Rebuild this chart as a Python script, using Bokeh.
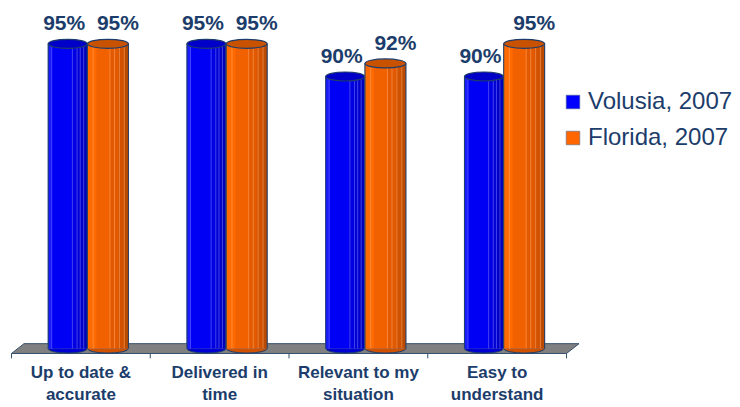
from bokeh.plotting import figure
from bokeh.models import Range1d, Legend, LegendItem
from bokeh.core.properties import value
from bokeh.embed import file_html
from bokeh.resources import INLINE

# ---- data ----
categories = ["Up to date &\naccurate", "Delivered in\ntime", "Relevant to my\nsituation", "Easy to\nunderstand"]
series_names = ["Volusia, 2007", "Florida, 2007"]
volusia = [95, 95, 90, 90]
florida = [95, 95, 92, 95]
value_labels_v = ["95%", "95%", "90%", "90%"]
value_labels_f = ["95%", "95%", "92%", "95%"]

BASE = 48.4          # axis floor value
NAVY = "#1C3D6B"
FONT = "Liberation Sans"

p = figure(width=740, height=407, output_backend="svg", toolbar_location=None,
           x_axis_location=None, y_axis_location=None,
           x_range=Range1d(-0.0793, 5.254), y_range=Range1d(39.39, 101.62),
           min_border=0, outline_line_color=None)
p.xgrid.visible = False
p.ygrid.visible = False
p.background_fill_color = "white"

n = len(categories)
idx = list(range(n))

# ---- floor ----
fb, ft = BASE - 0.75, BASE + 0.75
p.patch(x=[0, n, n + 0.09, 0.09], y=[fb, fb, ft, ft],
        fill_color="#808080", line_color="#33506F", line_width=1)
p.segment(x0=list(range(n + 1)), y0=[fb] * (n + 1), x1=list(range(n + 1)), y1=[fb - 0.75] * (n + 1),
          line_color="#33506F", line_width=1)

# ---- cylinders ----
specs = [
    dict(vals=volusia, off=0.405, w=0.281, main="#0000FF", top="#0000C8",
         strips=[(0.0, 0.09, "#1A1AFF"), (0.09, 0.60, "#0000F4"), (0.60, 0.72, "#0000E2"),
                 (0.72, 0.86, "#0000D2"), (0.86, 1.0, "#0000BC")],
         seps=[0.09, 0.62, 0.74, 0.82, 0.91], sepc="#7070FF",
         labels=value_labels_v, loff=-3.5),
    dict(vals=florida, off=0.695, w=0.295, main="#FF6600", top="#C85200",
         strips=[(0.0, 0.22, "#FF6A00"), (0.22, 0.55, "#F26100"), (0.55, 0.75, "#E25900"),
                 (0.75, 0.88, "#D05200"), (0.88, 1.0, "#BC4B00")],
         seps=[0.14, 0.55, 0.66, 0.78, 0.90], sepc="#FFA060",
         labels=value_labels_f, loff=10),
]

legend_renderers = []
for s in specs:
    xs = [i + s["off"] for i in idx]
    w = s["w"]
    # bottom cap
    p.ellipse(x=xs, y=[BASE] * n, width=w, height=9, height_units="screen",
              fill_color=s["strips"][-2][2], line_color=NAVY, line_width=1)
    # full body (used for legend)
    r = p.vbar(x=xs, bottom=BASE, top=s["vals"], width=w, fill_color=s["main"], line_color="#5A6F90",
               line_width=0.6)
    legend_renderers.append(r)
    # shaded strips
    for a, b, c in s["strips"]:
        sx = [x - w / 2 + w * (a + b) / 2 for x in xs]
        p.vbar(x=sx, bottom=BASE, top=s["vals"], width=w * (b - a), fill_color=c, line_color=None)
    # light separators
    for f in s["seps"]:
        lx = [x - w / 2 + w * f for x in xs]
        p.segment(x0=lx, y0=[BASE] * n, x1=lx, y1=s["vals"], line_color=s["sepc"],
                  line_alpha=0.6, line_width=1)
    # side edges
    for side in (-0.5, 0.5):
        ex = [x + side * w for x in xs]
        p.segment(x0=ex, y0=[BASE] * n, x1=ex, y1=s["vals"], line_color=NAVY, line_width=1)
    # top cap
    p.ellipse(x=xs, y=s["vals"], width=w, height=9, height_units="screen",
              fill_color=s["top"], line_color=NAVY, line_width=1.2)
    # value labels
    p.text(x=xs, y=s["vals"], text=s["labels"], x_offset=s["loff"], y_offset=-21,
           text_align="center", text_baseline="alphabetic", text_color=NAVY,
           text_font=value(FONT), text_font_size="21px", text_font_style="bold")

# ---- category labels ----
p.text(x=[i + 0.5 for i in idx], y=[fb] * n, text=categories, y_offset=10,
       text_align="center", text_baseline="top", text_color=NAVY,
       text_font=value(FONT), text_font_size="17px", text_font_style="bold",
       text_line_height=1.12)

# ---- legend ----
legend = Legend(items=[LegendItem(label=series_names[k], renderers=[legend_renderers[k]]) for k in range(2)],
                location=(564, 256), padding=0, margin=0, spacing=8,
                glyph_width=17, glyph_height=17, label_standoff=7,
                label_text_font=FONT, label_text_font_size="24px", label_text_color=NAVY,
                border_line_color=None, background_fill_alpha=0)
p.add_layout(legend)

open("out.html", "w").write(file_html(p, INLINE))
